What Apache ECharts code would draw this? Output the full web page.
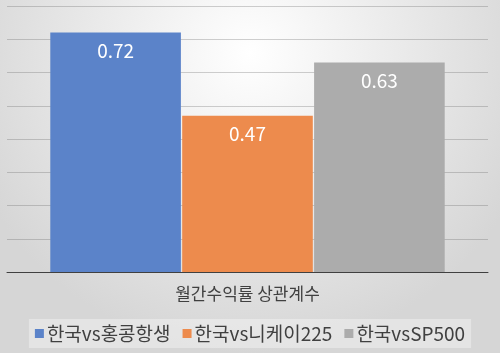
<!DOCTYPE html>
<html>
<head>
<meta charset="utf-8">
<script src="https://cdn.jsdelivr.net/npm/echarts@6/dist/echarts.min.js"></script>
<style>
html, body { margin: 0; padding: 0; }
#container { width: 500px; height: 353px; }
</style>
</head>
<body>
<div id="container"></div>
<script>
let categories = ['월간수익률 상관계수'];
let seriesNames = ['한국vs홍콩항생', '한국vs니케이225', '한국vsSP500'];
let hkData = [0.72];
let nikkeiData = [0.47];
let spData = [0.63];
let colors = ['#5b83c9', '#ed8b4d', '#acacac'];

var dom = document.getElementById('container');
var myChart = echarts.init(dom, null, { renderer: 'canvas' });

var font = '"Noto Sans CJK KR", "Noto Sans", sans-serif';

function makeSeries(name, data, color) {
    return {
        name: name,
        type: 'bar',
        data: data,
        barGap: '1%',
        barCategoryGap: '18%',
        itemStyle: { color: color },
        label: {
            show: true,
            position: 'insideTop',
            distance: 9,
            color: '#ffffff',
            fontSize: 19,
            fontFamily: font,
            formatter: function (p) { return p.value.toFixed(2); }
        }
    };
}

var option = {
    backgroundColor: {
        type: 'radial', x: 0.5, y: 0.15, r: 0.85,
        colorStops: [
            { offset: 0, color: '#ffffff' },
            { offset: 1, color: '#d6d6d6' }
        ]
    },
    color: colors,
    grid: { left: 7, right: 12, top: 6, bottom: 81 },
    xAxis: {
        type: 'category',
        data: categories,
        axisLine: { lineStyle: { color: '#404040', width: 1 } },
        axisTick: { show: false },
        axisLabel: { color: '#404040', fontSize: 17, fontFamily: font, margin: 13 }
    },
    yAxis: {
        type: 'value',
        min: 0,
        max: 0.8,
        interval: 0.1,
        axisLabel: { show: false },
        axisLine: { show: false },
        axisTick: { show: false },
        splitLine: { lineStyle: { color: 'rgba(100,100,100,0.3)', width: 1 } }
    },
    legend: {
        bottom: 5,
        left: 'center',
        itemWidth: 9,
        itemHeight: 9,
        itemGap: 12,
        icon: 'rect',
        padding: [5, 6],
        backgroundColor: 'rgba(255,255,255,0.35)',
        textStyle: { color: '#404040', fontSize: 19, fontFamily: font, padding: [0, 0, 0, -2] },
        data: seriesNames
    },
    series: [
        makeSeries(seriesNames[0], hkData, colors[0]),
        makeSeries(seriesNames[1], nikkeiData, colors[1]),
        makeSeries(seriesNames[2], spData, colors[2])
    ]
};

myChart.setOption(option);
window.addEventListener('resize', myChart.resize);
</script>
</body>
</html>
